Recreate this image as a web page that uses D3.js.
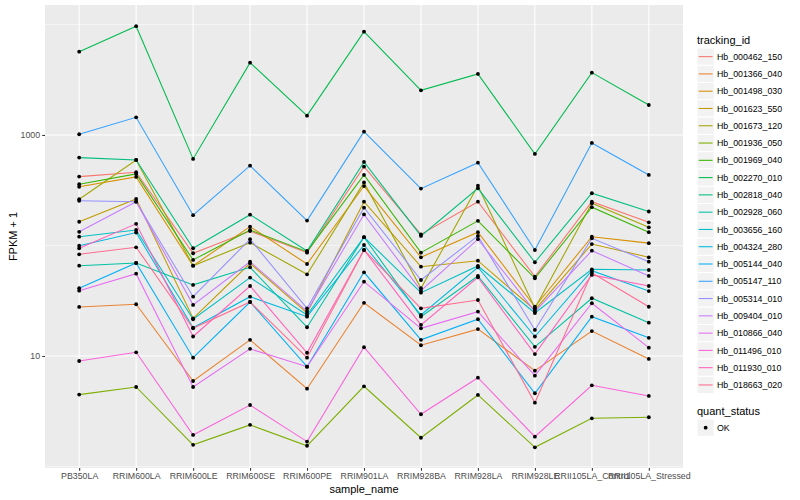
<!DOCTYPE html>
<html>
<head>
<meta charset="utf-8">
<script src="https://cdn.jsdelivr.net/npm/d3@7"></script>
<style>
  body { margin: 0; background: #fff; }
  text { font-family: "Liberation Sans", Arial, sans-serif; }
</style>
</head>
<body>
<div id="chart"></div>
<script>
// samples on the x axis
const samples = ["PB350LA", "RRIM600LA", "RRIM600LE", "RRIM600SE", "RRIM600PE", "RRIM901LA",
  "RRIM928BA", "RRIM928LA", "RRIM928LE", "RRII105LA_Control", "RRII105LA_Stressed"];

// genes (legend order)
const trackingIds = ["Hb_000462_150", "Hb_001366_040", "Hb_001498_030", "Hb_001623_550", "Hb_001673_120",
  "Hb_001936_050", "Hb_001969_040", "Hb_002270_010", "Hb_002818_040", "Hb_002928_060",
  "Hb_003656_160", "Hb_004324_280", "Hb_005144_040", "Hb_005147_110", "Hb_005314_010",
  "Hb_009404_010", "Hb_010866_040", "Hb_011496_010", "Hb_011930_010", "Hb_018663_020"];

// FPKM + 1 per gene, one value per sample
const fpkm = [
  [420, 460, 85, 135, 86.1, 516, 126, 249, 52.2, 249, 162],
  [27.8, 29.4, 5.94, 14.0, 5.06, 30.3, 12.5, 17.5, 7.37, 16.8, 9.4],
  [340, 417, 65.6, 148, 68, 345, 78.2, 132, 27.9, 120, 105],
  [164, 264, 21.9, 69, 24.5, 249, 64.3, 72.8, 26.1, 103, 78.2],
  [262, 594, 65.6, 106, 54.8, 372, 41, 347, 27, 241, 146],
  [4.47, 5.24, 1.57, 2.38, 1.54, 5.31, 1.82, 4.44, 1.49, 2.73, 2.79],
  [358, 444, 74, 138, 87.9, 435, 86.1, 167, 50.5, 222, 132],
  [5675, 9640, 607, 4510, 1496, 8610, 2537, 3565, 673, 3664, 1868],
  [624, 594, 94.4, 190, 89.1, 570, 122, 329, 70.5, 297, 203],
  [65.6, 69.4, 44, 63.5, 18.2, 119, 22.7, 53, 12.1, 33.3, 20],
  [120, 138, 21.5, 51.2, 23.5, 119, 37.4, 65.2, 24.5, 60.9, 60],
  [99.6, 131, 18.0, 34.4, 22.7, 101, 23.5, 63.5, 15, 59.2, 38.7],
  [41.0, 69.4, 9.65, 30.8, 8.0, 57.2, 14.0, 21.5, 4.6, 22.7, 14.6],
  [1015, 1445, 188, 527, 168, 1072, 327, 561, 91, 847, 435],
  [254, 249, 34.4, 114, 27, 220, 48.7, 122, 17.2, 116, 71.3],
  [133, 249, 29, 71.3, 25.5, 191, 39, 114, 25.2, 89.8, 53],
  [39.0, 55.6, 5.24, 11.6, 8.0, 47, 17.8, 25.2, 6.63, 30, 11.9],
  [9.01, 10.8, 1.93, 3.6, 1.68, 12.0, 2.97, 6.36, 1.86, 5.43, 4.35],
  [94.4, 157, 15.0, 43, 10.7, 91, 19.1, 51.5, 10.4, 54.1, 43],
  [83.2, 96.3, 17.8, 30.8, 9.65, 91, 27, 32.1, 3.78, 56.7, 27.9]
];

// y axis ticks
const majorTicks = [10, 1000];
const minorTicks = [1, 100, 10000];
const quantStatus = ["OK"];

// ggplot hue palette for 20 groups
const colors = ["#F8766D", "#EA8331", "#D89000", "#C09B00", "#A3A500", "#7CAE00", "#39B600",
  "#00BB4E", "#00BF7D", "#00C1A3", "#00BFC4", "#00BAE0", "#00B0F6", "#35A2FF", "#9590FF",
  "#C77CFF", "#E76BF3", "#FA62DB", "#FF62BC", "#FF6C91"];

const width = 800, height = 500;
const panel = { left: 45, right: 683, top: 5, bottom: 468 };

let svg = d3.select("#chart").append("svg")
  .attr("width", width)
  .attr("height", height);

// scales
let x = d3.scalePoint().domain(samples).range([panel.left, panel.right]).padding(0.6);
let y = d3.scaleLog().domain([0.969, 15000]).range([panel.bottom, panel.top]);
let color = d3.scaleOrdinal().domain(trackingIds).range(colors);

// panel background
svg.append("rect")
  .attr("x", panel.left).attr("y", panel.top)
  .attr("width", panel.right - panel.left).attr("height", panel.bottom - panel.top)
  .attr("fill", "#EBEBEB");

// grid
let grid = svg.append("g");
grid.selectAll(".minor").data(minorTicks).enter().append("line")
  .attr("x1", panel.left).attr("x2", panel.right)
  .attr("y1", d => y(d)).attr("y2", d => y(d))
  .attr("stroke", "#fff").attr("stroke-width", 0.53);
grid.selectAll(".major").data(majorTicks).enter().append("line")
  .attr("x1", panel.left).attr("x2", panel.right)
  .attr("y1", d => y(d)).attr("y2", d => y(d))
  .attr("stroke", "#fff").attr("stroke-width", 1.07);
grid.selectAll(".vert").data(samples).enter().append("line")
  .attr("x1", d => x(d)).attr("x2", d => x(d))
  .attr("y1", panel.top).attr("y2", panel.bottom)
  .attr("stroke", "#fff").attr("stroke-width", 1.07);

// lines
let series = trackingIds.map((id, i) => ({ id: id, values: fpkm[i] }));
let line = d3.line()
  .x((d, i) => x(samples[i]))
  .y(d => y(d));

svg.append("g").selectAll("path").data(series).enter().append("path")
  .attr("d", d => line(d.values))
  .attr("fill", "none")
  .attr("stroke", d => color(d.id))
  .attr("stroke-width", 1.07);

// points
let pts = [];
series.forEach(s => s.values.forEach((v, i) => pts.push([samples[i], v])));
svg.append("g").selectAll("circle").data(pts).enter().append("circle")
  .attr("cx", d => x(d[0]))
  .attr("cy", d => y(d[1]))
  .attr("r", 1.9)
  .attr("fill", "#000");

// axes
let yAxis = svg.append("g")
  .attr("transform", "translate(" + panel.left + ",0)")
  .call(d3.axisLeft(y).tickValues(majorTicks).tickFormat(d3.format("d")).tickSize(2.74).tickPadding(2.2));
let xAxis = svg.append("g")
  .attr("transform", "translate(0," + panel.bottom + ")")
  .call(d3.axisBottom(x).tickSize(2.74).tickPadding(2.2));
[xAxis, yAxis].forEach(a => {
  a.select(".domain").remove();
  a.selectAll(".tick line").attr("stroke", "#333").attr("stroke-width", 1.07);
  a.selectAll(".tick text").attr("fill", "#4D4D4D")
    .style("font-size", "8.8px")
    .style("font-family", "'Liberation Sans', Arial, sans-serif");
});

// axis titles
svg.append("text")
  .attr("x", (panel.left + panel.right) / 2).attr("y", 493)
  .attr("text-anchor", "middle").style("font-size", "11px")
  .text("sample_name");
svg.append("text")
  .attr("transform", "translate(17," + (panel.top + panel.bottom) / 2 + ") rotate(-90)")
  .attr("text-anchor", "middle").style("font-size", "11px")
  .text("FPKM + 1");

// legend: tracking_id
let legend = svg.append("g").attr("transform", "translate(697,0)");
legend.append("text").attr("x", 0).attr("y", 44).style("font-size", "11px").text("tracking_id");
let keys = legend.selectAll(".key").data(trackingIds).enter().append("g")
  .attr("transform", (d, i) => "translate(0," + (48 + i * 17.28) + ")");
keys.append("rect").attr("width", 17.28).attr("height", 17.28)
  .attr("fill", "#F2F2F2").attr("stroke", "#fff").attr("stroke-width", 1);
keys.append("line").attr("x1", 1.7).attr("x2", 15.6).attr("y1", 8.64).attr("y2", 8.64)
  .attr("stroke", d => color(d)).attr("stroke-width", 1.07);
keys.append("text").attr("x", 20).attr("y", 11.8)
  .style("font-size", "8.8px").text(d => d);

// legend: quant_status
let legend2 = svg.append("g").attr("transform", "translate(697,0)");
legend2.append("text").attr("x", 0).attr("y", 415).style("font-size", "11px").text("quant_status");
let keys2 = legend2.selectAll(".key").data(quantStatus).enter().append("g")
  .attr("transform", (d, i) => "translate(0," + (419 + i * 17.28) + ")");
keys2.append("rect").attr("width", 17.28).attr("height", 17.28)
  .attr("fill", "#F2F2F2").attr("stroke", "#fff").attr("stroke-width", 1);
keys2.append("circle").attr("cx", 8.64).attr("cy", 8.64).attr("r", 1.9).attr("fill", "#000");
keys2.append("text").attr("x", 20).attr("y", 11.8)
  .style("font-size", "8.8px").text(d => d);
</script>
</body>
</html>
